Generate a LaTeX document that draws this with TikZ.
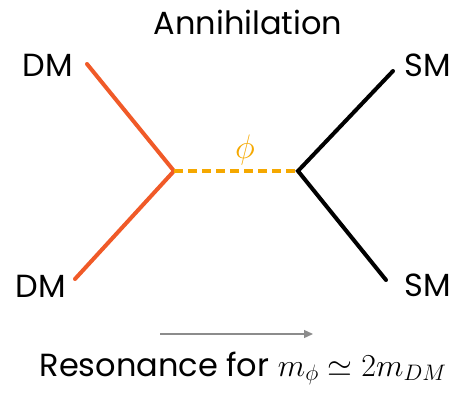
\documentclass[tikz,border=0pt]{standalone}
\usepackage{fix-cm}
\usepackage{fontspec}
\setmainfont{Poppins}
\usetikzlibrary{arrows.meta}
\definecolor{dmred}{HTML}{F05A28}
\definecolor{phiorange}{HTML}{F5A800}
\definecolor{arrowgray}{HTML}{8C8C8C}
\begin{document}
\begin{tikzpicture}[x=1pt,y=-1pt,
  lbl/.style={inner sep=0pt,font=\fontsize{32}{36}\selectfont},
  dmline/.style={draw=dmred,line width=4pt,line cap=round},
  smline/.style={draw=black,line width=4pt,line cap=round},
  medline/.style={draw=phiorange,line width=3.2pt,dash pattern=on 9pt off 5pt},
  ]
\useasboundingbox (0,0) rectangle (456,394);
\node[lbl] (title) at (248,22) {Annihilation};
\node[lbl] (dm1) at (48,65) {DM};
\node[lbl] (dm2) at (41,286) {DM};
\node[lbl] (sm1) at (428,65) {SM};
\node[lbl] (sm2) at (428,285) {SM};
\coordinate (a1) at (87,64);
\coordinate (a2) at (75,279);
\coordinate (b1) at (393,71);
\coordinate (b2) at (386,280);
\coordinate (v1) at (174,171);
\coordinate (v2) at (298,171);
\path[dmline] (a1) -- (v1) -- (a2);
\path[smline] (b1) -- (v2) -- (b2);
\path[medline] (v1) -- (v2);
\node[inner sep=0pt,text=phiorange,font=\fontsize{34}{38}\selectfont] (phi) at (245,150) {$\phi$};
\coordinate (r1) at (160,334);
\coordinate (r2) at (313,334);
\draw[arrowgray,line width=1.3pt,-{Triangle[length=9pt,width=8pt]}] (r1) -- (r2);
\node[lbl,anchor=base,font=\fontsize{32}{36}\selectfont] (res) at (243,376) {Resonance for $m_\phi \simeq 2m_{DM}$};
\end{tikzpicture}
\end{document}
